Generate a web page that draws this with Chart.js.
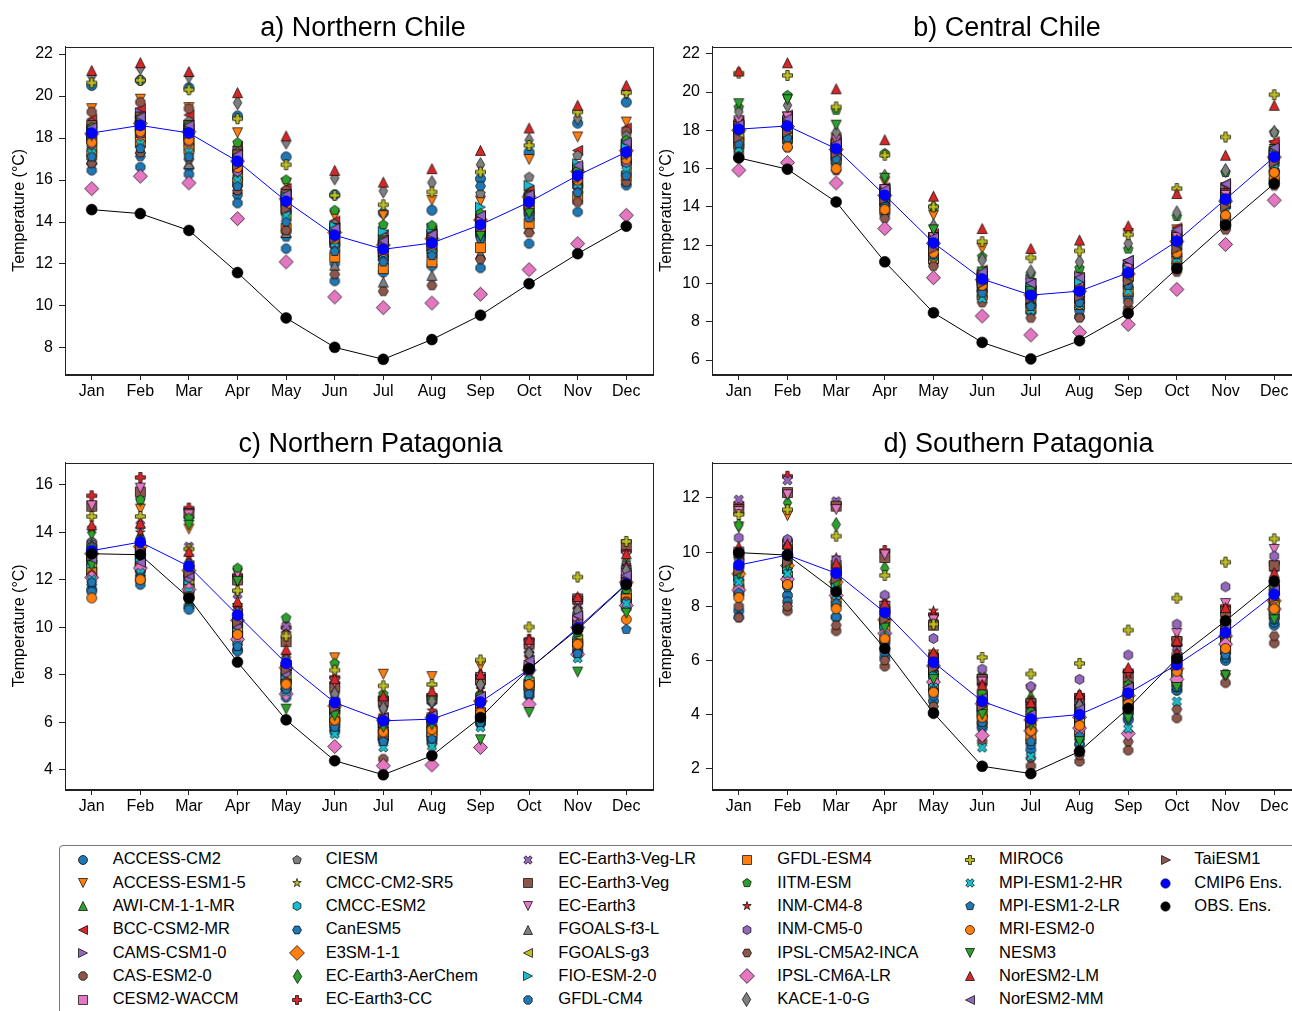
<!DOCTYPE html>
<html>
<head>
<meta charset="utf-8">
<script src="https://cdn.jsdelivr.net/npm/chart.js@4.4.1/dist/chart.umd.min.js"></script>
<style>
  html, body { margin: 0; padding: 0; background: #fff; width: 1292px; height: 1011px; overflow: hidden; }
  body { position: relative; }
  canvas.panel { position: absolute; }
  #legendBox { position: absolute; left: 59px; top: 845px; width: 1300px; height: 200px; border: 1px solid #777; border-radius: 4px; box-sizing: border-box; }
  .lg-text { position: absolute; font: 16.5px 'Liberation Sans', Arial, sans-serif; line-height: 20px; color: #000; white-space: nowrap; }
  .lg-mark { position: absolute; }
</style>
</head>
<body>
<canvas id="panelA" class="panel" width="660" height="402" style="left:0px;top:2px"></canvas>
<canvas id="panelB" class="panel" width="661" height="402" style="left:647px;top:2px"></canvas>
<canvas id="panelC" class="panel" width="660" height="400" style="left:0px;top:419px"></canvas>
<canvas id="panelD" class="panel" width="661" height="400" style="left:647px;top:419px"></canvas>
<div id="legendBox"></div>
<script>
const months = ['Jan', 'Feb', 'Mar', 'Apr', 'May', 'Jun', 'Jul', 'Aug', 'Sep', 'Oct', 'Nov', 'Dec'];

const models = [
    'ACCESS-CM2', 'ACCESS-ESM1-5', 'AWI-CM-1-1-MR', 'BCC-CSM2-MR', 'CAMS-CSM1-0', 'CAS-ESM2-0',
    'CESM2-WACCM', 'CIESM', 'CMCC-CM2-SR5', 'CMCC-ESM2', 'CanESM5', 'E3SM-1-1',
    'EC-Earth3-AerChem', 'EC-Earth3-CC', 'EC-Earth3-Veg-LR', 'EC-Earth3-Veg', 'EC-Earth3', 'FGOALS-f3-L',
    'FGOALS-g3', 'FIO-ESM-2-0', 'GFDL-CM4', 'GFDL-ESM4', 'IITM-ESM', 'INM-CM4-8',
    'INM-CM5-0', 'IPSL-CM5A2-INCA', 'IPSL-CM6A-LR', 'KACE-1-0-G', 'MIROC6', 'MPI-ESM1-2-HR',
    'MPI-ESM1-2-LR', 'MRI-ESM2-0', 'NESM3', 'NorESM2-LM', 'NorESM2-MM', 'TaiESM1'
];

// ---- a) Northern Chile (rows follow `models`) ----
const ensNorthernChile = [18.24, 18.60, 18.24, 16.89, 14.99, 13.37, 12.70, 13.00, 13.87, 14.95, 16.22, 17.33];
const obsNorthernChile = [14.59, 14.40, 13.60, 11.59, 9.43, 8.03, 7.46, 8.40, 9.56, 11.06, 12.49, 13.80];
const tempNorthernChile = [
    [20.50, 20.75, 20.40, 19.05, 17.10, 15.30, 14.43, 14.56, 16.06, 17.33, 18.71, 19.71],
    [19.40, 19.85, 19.45, 18.25, 15.85, 14.30, 14.30, 15.03, 15.00, 16.98, 18.05, 18.76],
    [18.30, 18.90, 18.50, 17.20, 15.30, 13.80, 13.00, 13.30, 14.00, 15.10, 16.50, 17.50],
    [18.90, 19.40, 19.10, 17.60, 15.60, 14.05, 13.40, 13.60, 14.30, 15.50, 17.41, 18.48],
    [18.10, 19.20, 18.60, 17.00, 15.00, 13.50, 12.80, 13.10, 13.90, 14.90, 16.30, 17.40],
    [19.24, 19.71, 19.40, 17.50, 15.50, 13.80, 13.00, 13.30, 14.00, 15.00, 16.60, 18.32],
    [18.00, 18.50, 18.10, 16.60, 14.70, 13.10, 12.50, 12.80, 13.60, 14.60, 15.90, 17.00],
    [18.71, 19.00, 18.80, 17.30, 15.30, 13.90, 13.30, 13.50, 15.35, 16.14, 17.17, 18.10],
    [17.90, 18.40, 18.00, 16.70, 14.80, 13.20, 12.60, 12.90, 13.70, 14.70, 16.00, 17.10],
    [17.60, 18.10, 17.70, 16.30, 14.50, 12.90, 12.30, 12.60, 13.40, 14.40, 15.70, 16.80],
    [16.78, 17.13, 16.57, 15.27, 13.29, 12.00, 12.20, 12.40, 15.71, 15.30, 16.50, 17.20],
    [18.20, 18.70, 18.30, 16.90, 15.10, 13.50, 12.90, 13.20, 14.10, 15.20, 16.40, 17.40],
    [18.40, 18.80, 18.40, 17.00, 15.20, 13.60, 12.90, 13.20, 14.00, 15.00, 16.30, 17.50],
    [18.50, 18.90, 18.50, 17.10, 15.20, 13.60, 13.00, 13.30, 14.10, 15.10, 16.50, 17.60],
    [18.30, 18.70, 18.30, 16.90, 15.00, 13.40, 12.80, 13.10, 13.90, 15.00, 16.30, 17.40],
    [18.60, 19.00, 18.60, 17.20, 15.30, 13.70, 13.10, 13.40, 14.20, 15.20, 16.60, 17.70],
    [18.40, 18.80, 18.40, 17.00, 15.10, 13.50, 12.90, 13.20, 14.00, 15.10, 16.40, 17.50],
    [17.00, 17.50, 16.78, 15.60, 13.50, 11.94, 11.14, 11.46, 12.50, 13.70, 15.10, 16.00],
    [17.50, 18.00, 17.60, 16.20, 14.30, 12.80, 12.20, 12.50, 13.30, 14.30, 15.60, 16.70],
    [18.00, 18.30, 18.00, 16.90, 15.20, 13.80, 13.56, 13.70, 14.71, 15.75, 16.78, 17.68],
    [16.46, 16.62, 16.27, 14.90, 12.73, 11.19, 11.60, 11.90, 11.81, 12.97, 14.48, 15.75],
    [17.20, 17.80, 17.50, 15.90, 13.70, 12.33, 11.78, 12.10, 12.78, 13.92, 15.20, 16.20],
    [18.50, 18.95, 18.60, 17.78, 16.01, 14.56, 13.87, 13.84, 14.40, 15.24, 16.46, 17.90],
    [17.80, 18.30, 17.90, 16.50, 14.60, 13.00, 12.40, 12.70, 13.50, 14.50, 15.80, 16.90],
    [17.70, 18.20, 17.80, 16.40, 14.50, 12.90, 12.30, 12.60, 13.40, 14.40, 15.70, 16.80],
    [16.80, 17.30, 17.00, 15.50, 13.60, 11.51, 10.70, 10.98, 12.22, 13.49, 14.95, 15.90],
    [15.59, 16.18, 15.86, 14.16, 12.10, 10.43, 9.92, 10.14, 10.56, 11.73, 12.97, 14.32],
    [20.95, 21.35, 20.95, 19.68, 17.81, 16.10, 15.48, 15.87, 16.73, 17.90, 18.95, 20.20],
    [20.63, 20.75, 20.30, 18.92, 16.73, 15.27, 14.82, 15.43, 16.38, 17.65, 19.24, 20.16],
    [17.29, 17.73, 17.33, 16.00, 14.30, 13.00, 12.50, 12.70, 13.50, 14.60, 15.80, 16.46],
    [17.10, 17.50, 17.10, 15.70, 14.00, 12.60, 12.10, 12.40, 13.20, 14.20, 15.40, 16.20],
    [17.80, 18.30, 17.90, 16.60, 14.80, 13.20, 12.60, 12.90, 13.70, 14.70, 16.00, 17.00],
    [18.10, 18.60, 18.20, 16.80, 14.90, 13.30, 13.00, 13.00, 13.32, 14.40, 16.10, 17.20],
    [21.22, 21.59, 21.17, 20.16, 18.10, 16.46, 15.90, 16.54, 17.41, 18.48, 19.56, 20.51],
    [18.50, 19.00, 18.60, 17.20, 15.30, 13.70, 13.10, 13.40, 14.30, 15.30, 16.70, 17.80],
    [18.20, 18.60, 18.20, 16.70, 14.60, 13.20, 12.60, 12.90, 13.80, 14.80, 16.10, 17.20]
];

// ---- b) Central Chile ----
const ensCentralChile = [18.06, 18.23, 17.04, 14.61, 12.12, 10.23, 9.39, 9.60, 10.56, 12.21, 14.40, 16.61];
const obsCentralChile = [16.56, 15.97, 14.26, 11.13, 8.47, 6.92, 6.06, 7.01, 8.44, 10.78, 13.05, 15.22];
const tempCentralChile = [
    [17.20, 17.60, 16.44, 14.20, 11.31, 9.66, 8.90, 8.27, 9.40, 11.00, 13.20, 15.40],
    [18.40, 18.70, 17.60, 15.30, 13.57, 11.83, 10.00, 10.30, 12.61, 12.80, 15.00, 17.20],
    [18.20, 18.50, 17.30, 14.80, 12.30, 10.40, 9.50, 9.70, 10.70, 12.40, 14.60, 16.80],
    [18.50, 18.80, 17.50, 15.00, 12.60, 10.70, 9.90, 10.20, 11.20, 12.90, 15.20, 17.40],
    [17.90, 18.30, 17.10, 14.70, 12.20, 10.30, 10.20, 10.40, 11.00, 12.50, 14.90, 16.80],
    [17.60, 18.00, 16.80, 14.40, 11.90, 10.00, 9.20, 9.30, 8.70, 10.80, 12.90, 15.90],
    [18.30, 18.40, 17.40, 14.90, 12.40, 10.50, 9.60, 9.90, 10.80, 12.50, 14.70, 16.90],
    [18.10, 18.50, 17.20, 14.80, 12.30, 10.40, 9.80, 10.00, 10.90, 12.60, 14.80, 17.00],
    [17.80, 18.00, 16.80, 14.40, 11.90, 10.00, 9.20, 9.40, 10.30, 11.90, 14.10, 16.40],
    [17.70, 17.90, 16.70, 14.30, 11.80, 9.90, 9.10, 9.30, 10.20, 11.80, 14.00, 16.30],
    [17.40, 17.70, 16.60, 14.10, 11.50, 9.60, 8.90, 9.00, 9.80, 11.40, 13.50, 15.90],
    [18.00, 18.20, 17.00, 14.60, 12.10, 10.20, 9.40, 9.60, 10.50, 12.20, 14.30, 16.60],
    [18.30, 18.60, 17.30, 14.90, 12.40, 10.40, 9.60, 9.80, 10.80, 12.40, 14.60, 16.80],
    [18.40, 18.60, 17.40, 14.90, 12.50, 10.50, 9.70, 9.90, 10.90, 12.50, 14.70, 16.90],
    [18.00, 18.30, 17.10, 14.60, 12.10, 10.20, 9.40, 9.60, 10.50, 12.20, 14.40, 16.60],
    [18.20, 18.50, 17.30, 14.80, 12.30, 10.30, 9.50, 9.70, 10.70, 12.30, 14.50, 16.70],
    [18.50, 18.70, 17.50, 14.90, 12.40, 10.40, 9.60, 9.80, 10.80, 12.40, 14.60, 16.80],
    [17.50, 17.80, 16.70, 14.60, 12.00, 9.90, 9.00, 9.40, 10.40, 12.00, 14.20, 16.40],
    [17.70, 18.00, 16.90, 14.50, 12.00, 10.00, 9.30, 9.50, 10.40, 12.10, 14.20, 16.50],
    [17.90, 18.20, 17.00, 14.70, 12.10, 10.20, 9.80, 10.10, 10.70, 12.20, 14.50, 16.70],
    [17.00, 17.40, 16.20, 13.60, 11.10, 9.30, 8.50, 8.60, 9.20, 11.00, 13.00, 15.30],
    [17.30, 17.60, 16.50, 13.90, 11.30, 9.40, 8.70, 8.90, 9.60, 11.30, 13.30, 15.60],
    [19.20, 19.83, 19.05, 16.80, 14.00, 11.40, 10.50, 10.80, 11.80, 13.50, 15.80, 17.90],
    [18.20, 18.40, 17.20, 14.70, 12.30, 10.30, 9.50, 9.70, 10.60, 12.30, 14.40, 16.70],
    [18.00, 18.20, 17.00, 14.50, 12.10, 10.10, 9.40, 9.60, 10.50, 12.10, 14.30, 16.50],
    [16.80, 17.10, 15.90, 13.40, 10.90, 9.00, 8.20, 8.20, 9.00, 10.60, 12.80, 15.10],
    [15.92, 16.31, 15.25, 12.87, 10.30, 8.30, 7.31, 7.45, 7.86, 9.69, 12.04, 14.35],
    [18.96, 19.31, 17.90, 15.60, 13.00, 11.22, 10.61, 11.13, 12.09, 13.69, 15.90, 17.90],
    [20.99, 20.87, 19.22, 16.70, 14.00, 12.18, 11.34, 11.70, 12.55, 14.96, 17.65, 19.86],
    [17.04, 17.50, 16.40, 14.00, 11.40, 9.22, 8.61, 8.90, 9.60, 11.30, 13.40, 16.00],
    [17.30, 17.60, 16.50, 14.00, 11.50, 9.50, 8.80, 9.00, 9.90, 11.50, 13.60, 15.80],
    [16.60, 17.13, 16.00, 13.86, 11.60, 9.90, 9.40, 9.70, 10.23, 11.60, 13.57, 15.80],
    [19.39, 19.60, 18.27, 15.50, 12.80, 10.60, 9.60, 9.50, 10.20, 11.90, 14.40, 17.00],
    [21.10, 21.53, 20.17, 17.51, 14.56, 12.87, 11.83, 12.27, 13.01, 14.70, 16.70, 19.31],
    [18.30, 18.60, 17.30, 14.90, 12.40, 10.60, 10.00, 10.30, 11.20, 12.80, 15.20, 17.10],
    [17.60, 17.90, 16.80, 14.40, 11.80, 10.00, 9.20, 9.30, 10.10, 11.80, 14.00, 16.30]
];

// ---- c) Northern Patagonia ----
const ensNorthernPatagonia = [13.23, 13.59, 12.57, 10.52, 8.49, 6.84, 6.07, 6.14, 6.86, 8.24, 9.98, 11.83];
const obsNorthernPatagonia = [13.10, 13.06, 11.24, 8.54, 6.11, 4.39, 3.80, 4.60, 6.21, 8.26, 9.92, 11.80];
const tempNorthernPatagonia = [
    [11.60, 12.00, 10.90, 9.05, 7.33, 5.70, 5.30, 5.30, 6.10, 7.12, 9.00, 11.20],
    [12.70, 14.98, 14.14, 10.80, 8.20, 8.72, 8.03, 7.93, 8.38, 8.60, 10.60, 12.40],
    [13.00, 13.94, 11.00, 10.00, 8.00, 6.60, 6.00, 6.00, 6.60, 8.00, 9.60, 11.60],
    [13.30, 13.30, 12.60, 10.60, 8.40, 6.80, 6.20, 6.30, 7.00, 8.40, 10.20, 12.00],
    [12.80, 12.74, 12.00, 9.90, 7.90, 6.50, 5.90, 6.00, 6.80, 8.30, 10.30, 12.00],
    [12.30, 12.60, 11.80, 9.70, 7.70, 6.00, 4.46, 5.20, 6.00, 7.60, 9.30, 11.20],
    [13.40, 13.40, 12.30, 10.20, 8.30, 6.70, 6.10, 6.20, 7.00, 8.40, 10.40, 12.30],
    [13.62, 13.60, 12.70, 10.70, 8.70, 7.20, 6.60, 6.90, 7.60, 8.90, 10.60, 12.50],
    [12.90, 13.20, 12.20, 10.20, 8.20, 6.60, 5.90, 6.00, 6.70, 8.00, 9.80, 11.70],
    [12.70, 13.00, 12.00, 10.00, 8.00, 6.40, 5.70, 5.80, 6.50, 7.80, 9.60, 11.50],
    [11.80, 12.20, 11.20, 9.30, 7.40, 5.90, 5.40, 5.50, 6.30, 7.50, 9.20, 11.10],
    [13.10, 13.40, 12.40, 10.30, 8.30, 6.70, 6.10, 6.20, 6.90, 8.20, 10.00, 11.90],
    [14.00, 15.40, 14.60, 12.00, 9.80, 7.70, 6.80, 6.90, 7.80, 9.20, 11.00, 12.80],
    [15.54, 16.31, 15.02, 12.20, 10.00, 7.90, 7.00, 7.10, 8.00, 9.50, 11.20, 13.20],
    [13.50, 14.30, 13.40, 11.40, 10.05, 7.60, 6.80, 6.90, 7.70, 9.10, 10.90, 12.60],
    [15.10, 15.70, 14.80, 12.00, 9.40, 7.50, 6.90, 7.00, 7.80, 9.30, 11.20, 13.48],
    [15.12, 15.86, 14.74, 12.26, 9.60, 7.70, 6.90, 7.00, 7.90, 9.30, 11.10, 13.00],
    [13.50, 13.70, 12.80, 10.60, 8.60, 7.00, 6.30, 6.40, 7.10, 8.50, 10.20, 12.10],
    [12.60, 12.90, 11.90, 9.90, 7.90, 6.30, 5.60, 5.70, 6.40, 7.70, 9.50, 11.40],
    [12.50, 12.80, 11.80, 9.80, 7.80, 6.20, 5.50, 5.60, 6.30, 7.60, 9.40, 11.30],
    [11.50, 11.80, 10.75, 9.00, 7.05, 5.60, 5.20, 5.40, 6.00, 7.30, 9.00, 10.80],
    [12.30, 12.50, 11.60, 9.60, 7.60, 6.00, 5.50, 5.61, 6.40, 7.54, 9.30, 11.20],
    [13.40, 15.37, 14.60, 12.50, 10.40, 8.49, 7.20, 7.00, 7.20, 8.30, 9.80, 11.60],
    [14.18, 14.00, 13.00, 10.80, 8.80, 7.00, 6.30, 6.50, 7.40, 8.90, 10.80, 12.60],
    [12.90, 13.20, 12.10, 10.10, 8.10, 6.50, 5.90, 6.00, 6.80, 8.20, 10.10, 11.90],
    [12.20, 12.40, 11.50, 9.60, 7.70, 6.10, 5.30, 5.10, 5.90, 7.40, 9.30, 11.10],
    [12.10, 12.50, 11.60, 9.50, 7.20, 4.99, 4.18, 4.21, 4.95, 6.77, 8.87, 10.92],
    [13.30, 13.60, 12.60, 10.60, 8.60, 7.20, 6.60, 6.90, 7.60, 8.90, 10.70, 12.40],
    [14.67, 14.67, 13.30, 11.55, 9.64, 8.20, 7.54, 7.60, 8.63, 10.02, 12.12, 13.62],
    [12.01, 12.29, 11.50, 9.25, 7.30, 5.51, 4.95, 5.00, 5.80, 7.20, 8.70, 11.00],
    [11.90, 12.10, 11.20, 9.20, 7.40, 5.80, 5.20, 5.30, 6.00, 7.20, 8.90, 9.92],
    [11.24, 12.01, 11.30, 9.70, 7.61, 6.10, 5.60, 5.70, 6.40, 7.60, 9.29, 10.34],
    [12.60, 13.00, 14.30, 11.94, 6.56, 6.28, 5.80, 5.90, 5.27, 6.42, 8.12, 10.60],
    [14.32, 14.39, 13.20, 11.10, 9.08, 7.84, 7.12, 7.33, 8.03, 9.50, 11.30, 13.10],
    [12.90, 12.74, 12.20, 10.30, 8.40, 6.80, 6.20, 6.30, 7.10, 8.60, 10.50, 12.20],
    [13.00, 13.30, 12.30, 10.20, 8.20, 6.60, 6.00, 6.10, 6.80, 8.20, 10.10, 11.90]
];

// ---- d) Southern Patagonia ----
const ensSouthernPatagonia = [9.52, 9.89, 9.22, 7.77, 5.93, 4.49, 3.84, 4.00, 4.79, 5.84, 7.03, 8.44];
const obsSouthernPatagonia = [9.98, 9.89, 8.54, 6.44, 4.06, 2.09, 1.82, 2.64, 4.23, 6.07, 7.46, 8.93];
const tempSouthernPatagonia = [
    [7.83, 8.40, 7.60, 6.11, 4.50, 3.50, 2.70, 2.90, 3.80, 4.90, 6.00, 7.30],
    [10.93, 11.35, 9.00, 8.00, 6.20, 4.90, 4.90, 4.60, 5.40, 6.40, 7.30, 8.60],
    [9.40, 9.70, 9.00, 7.60, 5.80, 4.40, 3.80, 3.90, 4.70, 5.80, 7.00, 8.30],
    [9.80, 10.00, 9.30, 7.80, 6.00, 4.70, 4.10, 4.20, 5.00, 6.00, 7.20, 8.60],
    [9.10, 9.40, 8.80, 7.40, 5.60, 4.20, 3.60, 3.80, 4.60, 5.60, 6.80, 8.10],
    [8.00, 7.83, 7.09, 5.78, 4.03, 3.00, 2.10, 2.27, 2.68, 3.87, 5.17, 6.64],
    [10.00, 10.30, 9.50, 8.00, 6.10, 4.70, 4.00, 4.20, 5.00, 6.10, 7.30, 8.70],
    [9.70, 9.90, 9.30, 7.90, 6.00, 4.60, 3.90, 4.10, 4.90, 5.90, 7.10, 8.50],
    [9.30, 9.60, 8.90, 7.50, 5.70, 4.30, 3.70, 3.80, 4.60, 5.70, 6.90, 8.20],
    [9.00, 9.30, 8.60, 7.20, 5.40, 4.00, 3.40, 3.60, 4.40, 5.50, 6.70, 8.00],
    [8.40, 8.70, 8.00, 6.60, 4.90, 3.70, 3.10, 3.30, 4.10, 5.10, 6.30, 7.60],
    [9.20, 9.50, 8.90, 7.50, 5.80, 4.40, 3.80, 3.90, 4.70, 5.70, 6.90, 8.20],
    [11.00, 11.82, 11.02, 9.40, 7.60, 5.50, 4.60, 4.60, 5.40, 6.60, 7.90, 9.50],
    [11.80, 12.80, 11.80, 10.06, 7.70, 5.40, 4.50, 4.70, 5.60, 6.80, 8.00, 9.60],
    [11.94, 12.65, 11.88, 9.90, 7.40, 5.20, 4.30, 4.40, 5.30, 6.50, 7.70, 9.40],
    [11.57, 12.20, 11.70, 9.80, 7.30, 5.30, 4.40, 4.50, 5.40, 6.70, 7.80, 9.50],
    [11.50, 12.12, 11.57, 9.90, 7.50, 5.20, 4.20, 4.40, 5.50, 7.00, 8.10, 10.10],
    [9.60, 9.80, 9.20, 7.70, 5.90, 4.50, 3.90, 4.33, 4.80, 5.80, 7.00, 8.40],
    [8.80, 9.10, 8.60, 7.20, 5.40, 4.10, 3.50, 3.70, 4.50, 5.50, 6.70, 8.00],
    [9.00, 9.40, 8.70, 7.30, 5.50, 4.10, 3.50, 3.60, 4.40, 5.40, 6.60, 7.90],
    [7.60, 8.17, 7.60, 6.30, 4.70, 3.60, 2.90, 3.10, 3.90, 4.90, 6.10, 7.40],
    [8.60, 8.90, 8.20, 6.80, 5.00, 3.80, 3.11, 3.40, 4.20, 5.20, 6.40, 7.70],
    [9.90, 10.20, 9.50, 8.00, 6.20, 4.80, 4.10, 4.30, 5.10, 6.10, 7.30, 8.70],
    [10.00, 10.40, 9.80, 8.30, 7.83, 5.10, 4.40, 4.60, 5.50, 6.30, 7.50, 8.90],
    [10.53, 10.47, 9.71, 8.41, 6.81, 5.68, 5.04, 5.30, 6.20, 7.34, 8.72, 9.85],
    [7.58, 8.00, 7.30, 6.00, 4.30, 3.20, 2.40, 2.50, 3.00, 4.20, 5.50, 6.90],
    [8.60, 9.00, 8.40, 7.00, 5.20, 3.23, 3.40, 3.50, 3.30, 5.30, 6.60, 7.90],
    [9.50, 9.80, 9.10, 7.60, 5.80, 4.50, 3.90, 4.33, 4.90, 6.00, 7.20, 8.50],
    [11.39, 11.57, 10.59, 9.14, 7.34, 6.11, 5.50, 5.89, 7.12, 8.30, 9.63, 10.49],
    [8.90, 9.20, 8.40, 6.90, 5.00, 2.78, 2.45, 3.00, 3.48, 4.48, 6.20, 7.80],
    [8.50, 8.80, 8.10, 6.70, 4.90, 3.70, 3.00, 3.20, 4.00, 5.00, 6.20, 7.50],
    [8.32, 8.80, 7.91, 6.80, 4.82, 3.90, 3.40, 3.60, 4.40, 5.60, 6.44, 7.90],
    [9.20, 9.50, 8.80, 7.20, 5.30, 4.00, 3.60, 3.00, 3.84, 5.00, 5.44, 7.50],
    [10.20, 10.30, 9.60, 8.10, 6.30, 5.10, 4.45, 4.76, 5.74, 6.73, 7.95, 9.24],
    [9.60, 9.90, 9.20, 7.70, 5.90, 4.60, 4.00, 4.20, 5.00, 6.10, 7.30, 8.60],
    [9.30, 9.60, 9.00, 7.50, 5.70, 4.30, 3.70, 3.90, 4.70, 5.80, 7.00, 8.30]
];

// marker shape + colour for each model, same order as `models`
const tab = {
    blue: '#1f77b4', orange: '#ff7f0e', green: '#2ca02c', red: '#d62728', purple: '#9467bd',
    brown: '#8c564b', pink: '#e377c2', gray: '#7f7f7f', olive: '#bcbd22', cyan: '#17becf'
};
const modelMarkers = [
    ['o', tab.blue], ['v', tab.orange], ['^', tab.green], ['<', tab.red], ['>', tab.purple], ['8', tab.brown],
    ['s', tab.pink], ['p', tab.gray], ['*', tab.olive], ['h', tab.cyan], ['H', tab.blue], ['D', tab.orange],
    ['d', tab.green], ['P', tab.red], ['X', tab.purple], ['s', tab.brown], ['v', tab.pink], ['^', tab.gray],
    ['<', tab.olive], ['>', tab.cyan], ['8', tab.blue], ['s', tab.orange], ['p', tab.green], ['*', tab.red],
    ['h', tab.purple], ['H', tab.brown], ['D', tab.pink], ['d', tab.gray], ['P', tab.olive], ['X', tab.cyan],
    ['p', tab.blue], ['o', tab.orange], ['v', tab.green], ['^', tab.red], ['<', tab.purple], ['>', tab.brown]
];

const FONT = "'Liberation Sans', Arial, Helvetica, sans-serif";

// matplotlib-like marker paths, r = half of the marker size
function tracePath(ctx, shape, r) {
    const poly = (n, rot, rad) => {
        for (let k = 0; k < n; k++) {
            const a = rot + k * 2 * Math.PI / n;
            const px = rad * Math.sin(a), py = -rad * Math.cos(a);
            if (k === 0) ctx.moveTo(px, py); else ctx.lineTo(px, py);
        }
        ctx.closePath();
    };
    const pts = (list, rot) => {
        list.forEach(([px, py], k) => {
            const x = px * Math.cos(rot) - py * Math.sin(rot);
            const y = px * Math.sin(rot) + py * Math.cos(rot);
            if (k === 0) ctx.moveTo(x, y); else ctx.lineTo(x, y);
        });
        ctx.closePath();
    };
    const tri = [[0, -r], [r, r], [-r, r]];
    const plus = [[-1, -3], [1, -3], [1, -1], [3, -1], [3, 1], [1, 1], [1, 3], [-1, 3], [-1, 1], [-3, 1], [-3, -1], [-1, -1]]
        .map(([x, y]) => [x * r / 3, y * r / 3]);
    const dg = r * Math.SQRT2;
    switch (shape) {
        case 'o': ctx.arc(0, 0, r, 0, 2 * Math.PI); break;
        case '8': poly(8, Math.PI / 8, r); break;
        case 's': ctx.rect(-r, -r, 2 * r, 2 * r); break;
        case 'p': poly(5, 0, r); break;
        case 'h': poly(6, 0, r); break;
        case 'H': poly(6, Math.PI / 6, r); break;
        case '^': pts(tri, 0); break;
        case 'v': pts(tri, Math.PI); break;
        case '<': pts(tri, -Math.PI / 2); break;
        case '>': pts(tri, Math.PI / 2); break;
        case 'D': pts([[0, -dg], [dg, 0], [0, dg], [-dg, 0]], 0); break;
        case 'd': pts([[0, -dg], [0.6 * dg, 0], [0, dg], [-0.6 * dg, 0]], 0); break;
        case 'P': pts(plus, 0); break;
        case 'X': pts(plus, Math.PI / 4); break;
        case '*': {
            const inner = r * 0.381966;
            for (let k = 0; k < 10; k++) {
                const a = k * Math.PI / 5;
                const rad = k % 2 === 0 ? r : inner;
                const px = rad * Math.sin(a), py = -rad * Math.cos(a);
                if (k === 0) ctx.moveTo(px, py); else ctx.lineTo(px, py);
            }
            ctx.closePath();
            break;
        }
    }
}

function makeMarker(shape, color, size, edge) {
    const r = size / 2;
    const s = Math.ceil(r * 1.5 * 2 + 4);
    const c = document.createElement('canvas');
    c.width = s; c.height = s;
    const ctx = c.getContext('2d');
    ctx.translate(s / 2, s / 2);
    ctx.beginPath();
    tracePath(ctx, shape, r);
    ctx.fillStyle = color;
    ctx.fill();
    ctx.lineWidth = edge;
    ctx.strokeStyle = '#000';
    ctx.lineJoin = 'miter';
    ctx.stroke();
    return c;
}

const plotMarkers = modelMarkers.map(([shape, color]) => makeMarker(shape, color, 10, 0.7));

// draw the top/right spines (Chart.js only draws the axis borders)
const frame = {
    id: 'frame',
    afterDraw(chart) {
        const {ctx, chartArea: a} = chart;
        ctx.save();
        ctx.strokeStyle = '#222';
        ctx.lineWidth = 1;
        ctx.strokeRect(Math.round(a.left) + 0.5, Math.round(a.top) + 0.5,
            Math.round(a.right - a.left), Math.round(a.bottom - a.top));
        ctx.restore();
    }
};

// panel title, placed over the plot area with a small horizontal nudge
const panelTitle = {
    id: 'panelTitle',
    afterDraw(chart, args, opts) {
        const {ctx, chartArea: a} = chart;
        ctx.save();
        ctx.font = '27px ' + FONT;
        ctx.fillStyle = '#000';
        ctx.textAlign = 'center';
        ctx.textBaseline = 'middle';
        ctx.fillText(opts.text, (a.left + a.right) / 2 + opts.dx, opts.y);
        ctx.restore();
    }
};

function drawPanel(id, title, temps, ens, obs, yMin, yMax, head) {
    const asPoints = vals => vals.map((v, m) => ({x: m, y: v}));
    const datasets = temps.map((vals, i) => ({
        label: models[i],
        data: asPoints(vals),
        showLine: false,
        pointStyle: plotMarkers[i],
        pointRadius: 5,
        pointHoverRadius: 5,
        order: 100 - i
    }));
    datasets.push({
        label: 'CMIP6 Ens.',
        data: asPoints(ens),
        showLine: true,
        borderColor: '#0000ff',
        borderWidth: 1,
        pointStyle: 'circle',
        pointRadius: 5.5,
        pointBackgroundColor: '#0000ff',
        pointBorderColor: '#0000dd',
        pointBorderWidth: 0.5,
        order: 1
    });
    datasets.push({
        label: 'OBS. Ens.',
        data: asPoints(obs),
        showLine: true,
        borderColor: '#000',
        borderWidth: 1,
        pointStyle: 'circle',
        pointRadius: 5.5,
        pointBackgroundColor: '#000',
        pointBorderColor: '#000',
        pointBorderWidth: 0.5,
        order: 0
    });

    const tickFont = {family: FONT, size: 16};
    new Chart(document.getElementById(id), {
        type: 'scatter',
        data: {datasets},
        options: {
            responsive: false,
            animation: false,
            events: [],
            layout: {padding: {left: 0, right: 7, top: head.space, bottom: 0}},
            plugins: {
                legend: {display: false},
                tooltip: {enabled: false},
                title: {display: false},
                panelTitle: {text: title, dx: head.dx, y: head.y}
            },
            scales: {
                x: {
                    type: 'linear',
                    min: -0.55,
                    max: 11.55,
                    afterFit: s => { s.height = 30; },
                    ticks: {
                        stepSize: 1,
                        includeBounds: false,
                        autoSkip: false,
                        maxRotation: 0,
                        padding: 2,
                        color: '#000',
                        font: tickFont,
                        callback: v => months[Math.round(v)]
                    },
                    grid: {drawOnChartArea: false, drawTicks: true, tickLength: 6, color: '#222'},
                    border: {display: true, color: '#222', width: 1}
                },
                y: {
                    min: yMin,
                    max: yMax,
                    afterFit: s => { s.width = 65; },
                    ticks: {stepSize: 2, includeBounds: false, padding: 6, color: '#000', font: tickFont},
                    grid: {drawOnChartArea: false, drawTicks: true, tickLength: 6, color: '#222'},
                    border: {display: true, color: '#222', width: 1},
                    title: {
                        display: true,
                        text: 'Temperature (°C)',
                        color: '#000',
                        font: {family: FONT, size: 16, lineHeight: 1.2},
                        padding: {top: 10, bottom: 0}
                    }
                }
            }
        },
        plugins: [frame, panelTitle]
    });
}

drawPanel('panelA', 'a) Northern Chile', tempNorthernChile, ensNorthernChile, obsNorthernChile, 6.76, 22.36,
    {space: 44.5, y: 26.2, dx: 4});
drawPanel('panelB', 'b) Central Chile', tempCentralChile, ensCentralChile, obsCentralChile, 5.27, 22.38,
    {space: 44.5, y: 26.2, dx: 0.5});
drawPanel('panelC', 'c) Northern Patagonia', tempNorthernPatagonia, ensNorthernPatagonia, obsNorthernPatagonia, 3.2, 16.94,
    {space: 43.5, y: 25.2, dx: 11.5});
drawPanel('panelD', 'd) Southern Patagonia', tempSouthernPatagonia, ensSouthernPatagonia, obsSouthernPatagonia, 1.25, 13.31,
    {space: 43.5, y: 25.2, dx: 12});

// shared legend below the panels, filled column by column (7 rows each)
const legendEntries = models.map((name, i) => {
    const [shape, color] = modelMarkers[i];
    const size = shape === 'D' ? 10.5 : (shape === 'd' ? 10 : 9);
    return {name, mark: makeMarker(shape, color, size, 0.7)};
});
legendEntries.push({name: 'CMIP6 Ens.', mark: makeMarker('o', '#0000ff', 9.5, 0.5)});
legendEntries.push({name: 'OBS. Ens.', mark: makeMarker('o', '#000000', 9.5, 0.5)});

const colMarkX = [82.7, 297.3, 528.3, 746.7, 970, 1165.7];
const colTextX = [112.7, 325.7, 558.3, 777.3, 999, 1194.3];
legendEntries.forEach((entry, k) => {
    const col = Math.floor(k / 7), row = k % 7;
    const cy = 858.3 + row * 23.33;
    const mk = entry.mark;
    mk.className = 'lg-mark';
    mk.style.left = (colMarkX[col] - mk.width / 2) + 'px';
    mk.style.top = (cy + 1.5 - mk.height / 2) + 'px';
    document.body.appendChild(mk);
    const label = document.createElement('div');
    label.className = 'lg-text';
    label.textContent = entry.name;
    label.style.left = colTextX[col] + 'px';
    label.style.top = (cy - 10) + 'px';
    document.body.appendChild(label);
});
</script>
</body>
</html>
